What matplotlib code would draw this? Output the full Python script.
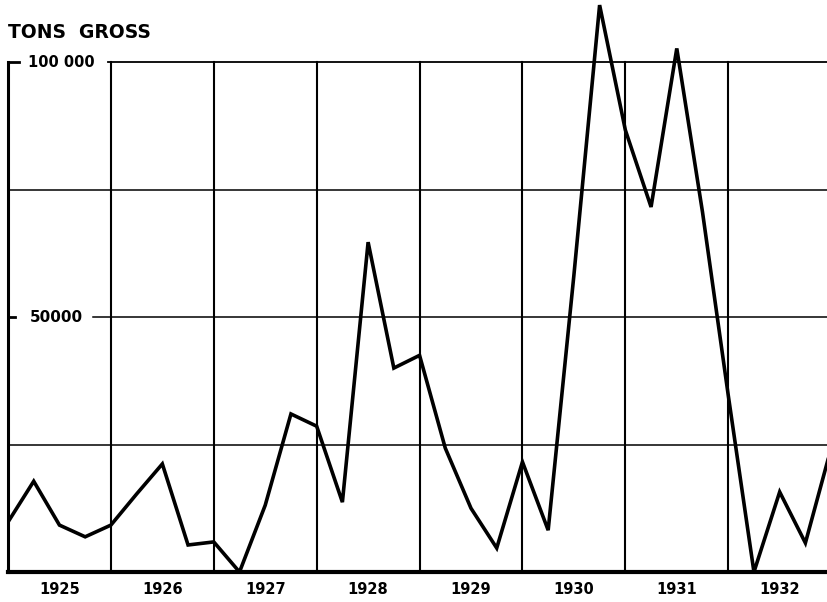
import numpy as np
import matplotlib
matplotlib.use('Agg')
import matplotlib.pyplot as plt

# quarterly gross tonnage (1925 Q1 .. 1933 Q1)
quarters = [1925.0 + 0.25 * i for i in range(33)]
tons = [9800, 17800, 9200, 6900,
        9200, 15300, 21200, 5300,
        5900, 0, 13100, 31000,
        28600, 13700, 64700, 40000,
        42500, 24300, 12500, 4700,
        21600, 8200, 58200, 111200,
        86700, 71600, 102700, 70600,
        34700, 0, 15700, 5700,
        24300]
years = [1925, 1926, 1927, 1928, 1929, 1930, 1931, 1932]
year_labels = ["1925", "1926", "1927", "1928", "1929", "1930", "1931", "1932"]
y_labels = {50000: "50000", 100000: "100 000"}

plt.rcParams['font.family'] = ['DejaVu Sans']

fig = plt.figure(figsize=(8.27, 6.02), dpi=100)
ax = fig.add_axes([8 / 827, 30 / 602, 819 / 827, 572 / 602])
ax.set_xlim(1925, 1932.96)
ax.set_ylim(0, 112200)

for s in ["top", "right"]:
    ax.spines[s].set_visible(False)
ax.spines["bottom"].set_linewidth(3)
ax.spines["left"].set_linewidth(2.2)
ax.spines["left"].set_bounds(0, 100000)
ax.set_xticks([])
ax.set_yticks([])

# vertical year lines
for yr in years[1:]:
    ax.plot([yr, yr], [0, 100000], color="black", lw=1.5, zorder=2)

# horizontal grid lines
ax.plot([1925, 1932.96], [25000, 25000], color="black", lw=1.1, zorder=2)
ax.plot([1925, 1932.96], [75000, 75000], color="black", lw=1.1, zorder=2)
ax.plot([1925.83, 1932.96], [50000, 50000], color="black", lw=1.1, zorder=2)
ax.plot([1925.97, 1932.96], [100000, 100000], color="black", lw=1.3, zorder=2)

# small ticks on left axis
ax.plot([1925, 1925.11], [100000, 100000], color="black", lw=2, zorder=2)
ax.plot([1925, 1925.07], [50000, 50000], color="black", lw=2, zorder=2)

ax.text(1925.52, 100000, y_labels[100000], ha="center", va="center",
        fontsize=10.5, fontweight="bold")
ax.text(1925.47, 50000, y_labels[50000], ha="center", va="center",
        fontsize=11, fontweight="bold")

# data line
ax.plot(quarters, tons, color="black", lw=2.6, solid_joinstyle="miter", zorder=3)

for yr, lab in zip(years, year_labels):
    fig.text((8 + (yr + 0.5 - 1925) * 102.9) / 827, 1 - 590 / 602, lab,
             ha="center", va="center", fontsize=10.5, fontweight="bold")

fig.text(8 / 827, 1 - 33 / 602, "TONS  GROSS", ha="left", va="center",
         fontsize=13.5, fontweight="bold")

fig.savefig("out.png", dpi=100)
